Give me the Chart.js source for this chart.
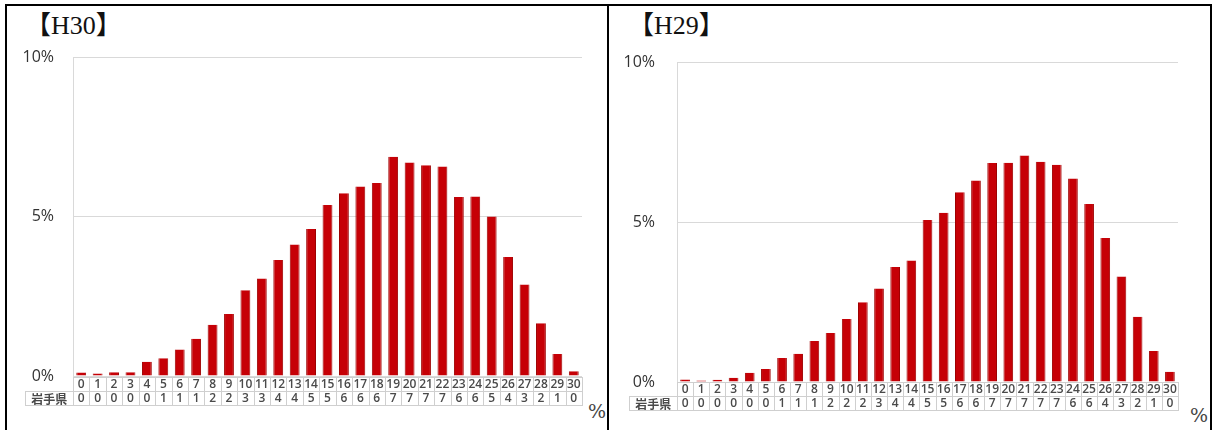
<!DOCTYPE html>
<html>
<head>
<meta charset="utf-8">
<script src="https://cdn.jsdelivr.net/npm/chart.js@4.4.1/dist/chart.umd.min.js"></script>
<style>
  body { margin: 0; width: 1213px; height: 430px; background: #fff; position: relative; overflow: hidden; }
  .frame { position: absolute; left: 5px; top: 4px; width: 1203px; height: 440px; border: 2px solid #000; border-bottom: none; }
  .divider { position: absolute; left: 607px; top: 4px; width: 2px; height: 440px; background: #000; }
  .title { position: absolute; font-family: "Liberation Serif", "Noto Sans CJK JP", serif; font-size: 26px; color: #111; line-height: 1; }
  .pct { position: absolute; font-family: "DejaVu Serif", serif; font-weight: 200; font-size: 19px; color: #444; line-height: 1; }
  canvas { position: absolute; }
</style>
</head>
<body>
<div class="frame"></div>
<div class="divider"></div>
<div class="title" style="left:25px; top:13px;">【H30】</div>
<div class="title" style="left:628px; top:13px;">【H29】</div>
<div class="pct" style="left:588px; top:402px;">%</div>
<div class="pct" style="left:1190px; top:406px;">%</div>
<canvas id="chartH30" width="600" height="423" style="left:8px; top:7px;"></canvas>
<canvas id="chartH29" width="598" height="423" style="left:611px; top:7px;"></canvas>
<script>
// x categories (0..30)
const categories = ["0","1","2","3","4","5","6","7","8","9","10","11","12","13","14","15","16","17","18","19","20","21","22","23","24","25","26","27","28","29","30"]
const yTicks = [0, 5, 10]
const rowLabel = "岩手県"

// H30 bar heights (%)
const h30Values = [0.11, 0.08, 0.12, 0.12, 0.45, 0.56, 0.83, 1.17, 1.61, 1.94, 2.69, 3.06, 3.64, 4.12, 4.61, 5.36, 5.73, 5.94, 6.05, 6.87, 6.69, 6.61, 6.57, 5.61, 5.63, 5.0, 3.73, 2.87, 1.65, 0.69, 0.15]
// H30 table row
const h30Table = [0,0,0,0,0,1,1,1,2,2,3,3,4,4,5,5,6,6,6,7,7,7,7,6,6,5,4,3,2,1,0]

// H29 bar heights (%)
const h29Values = [0.08, 0.05, 0.07, 0.13, 0.29, 0.41, 0.75, 0.88, 1.28, 1.53, 1.97, 2.49, 2.92, 3.59, 3.80, 5.06, 5.29, 5.93, 6.30, 6.84, 6.85, 7.08, 6.88, 6.79, 6.36, 5.56, 4.50, 3.30, 2.04, 0.97, 0.32]
// H29 table row
const h29Table = [0,0,0,0,0,0,1,1,1,2,2,2,3,4,4,5,5,6,6,7,7,7,7,7,6,6,4,3,2,1,0]

//draws the little data table under the bars, lined up with the x scale
const tablePlugin = {
  id: "dataTable",
  afterDraw(chart, args, opts) {
    const ctx = chart.ctx
    const area = chart.chartArea
    const x = chart.scales.x
    const w = (area.right - area.left) / opts.labels.length
    const top = area.bottom + opts.offset
    const rh = opts.rowHeight
    ctx.save()
    ctx.strokeStyle = "#cfcfcf"
    ctx.lineWidth = 1
    ctx.fillStyle = "#4a4a4a"
    ctx.textAlign = "center"
    ctx.textBaseline = "middle"
    ctx.font = "600 12px 'Open Sans'"
    opts.labels.forEach((lab, i) => {
      const cx = x.getPixelForValue(i)
      const left = Math.round(cx - w / 2) + 0.5
      const right = Math.round(cx + w / 2) + 0.5
      ctx.strokeRect(left, top + 0.5, right - left, rh)
      ctx.strokeRect(left, top + rh + 0.5, right - left, rh)
      ctx.fillText(lab, cx, top + rh / 2 + 1)
      ctx.fillText(String(opts.values[i]), cx, top + rh * 1.5 + 1)
    })
    const hl = Math.round(area.left - opts.headerWidth) + 0.5
    ctx.strokeRect(hl, top + rh + 0.5, Math.round(area.left) + 0.5 - hl, rh)
    ctx.font = "bold 12px 'Noto Sans CJK JP'"
    ctx.fillText(opts.header, (hl + area.left) / 2, top + rh * 1.5 + 1)
    ctx.restore()
  }
}

function makeChart(id, values, tableRow, pad, axisWidth, tickPad, offset) {
  return new Chart(id, {
    type: "bar",
    data: {
      labels: categories,
      datasets: [{
        data: values,
        backgroundColor: "#c60006",
        borderColor: "#9e0000",
        borderWidth: { left: 1, right: 1, top: 0, bottom: 0 },
        borderSkipped: "bottom",
        barPercentage: 0.6,
        categoryPercentage: 1
      }]
    },
    options: {
      responsive: false,
      animation: false,
      devicePixelRatio: 1,
      layout: { padding: pad },
      plugins: {
        legend: { display: false },
        tooltip: { enabled: false },
        dataTable: { labels: categories, values: tableRow, header: rowLabel, rowHeight: 14, offset: offset, headerWidth: 48 }
      },
      scales: {
        x: { display: false },
        y: {
          min: 0,
          max: 10,
          afterBuildTicks: s => { s.ticks = yTicks.map(v => ({ value: v })) },
          afterFit: s => { s.width = axisWidth },
          grid: { color: "#d9d9d9", drawTicks: false },
          border: { color: "#d9d9d9" },
          ticks: {
            padding: tickPad,
            color: "#333333",
            font: { family: "'Open Sans'", size: 16 },
            callback: v => v + "%"
          }
        }
      }
    },
    plugins: [tablePlugin]
  })
}

makeChart("chartH30", h30Values, h30Table, { left: 0, top: 50, right: 26, bottom: 54 }, 65, 19, 1)
makeChart("chartH29", h29Values, h29Table, { left: 0, top: 55, right: 31, bottom: 48 }, 66, 22, 0)
</script>
</body>
</html>
